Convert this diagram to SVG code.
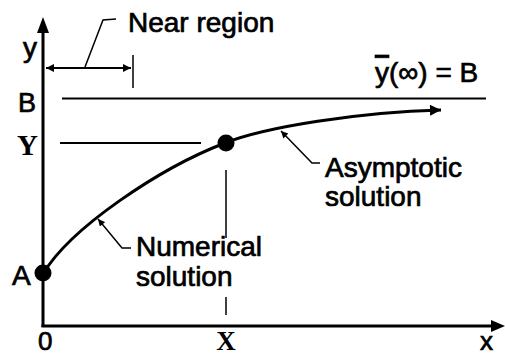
<svg xmlns="http://www.w3.org/2000/svg" width="505" height="356" viewBox="0 0 505 356">
<style>
.t{font-family:"Liberation Sans",Arial,sans-serif;font-size:28px;fill:#000;stroke:#000;stroke-width:0.7px}
.s{font-family:"Liberation Serif","Times New Roman",serif;font-size:29px;font-weight:bold;fill:#000}
.ln{fill:none;stroke:#000;stroke-linecap:butt}
</style>
<defs>
<marker id="big" viewBox="0 0 10 10" refX="10" refY="5" markerUnits="userSpaceOnUse" markerWidth="15" markerHeight="11" orient="auto"><path d="M0,0 L10,5 L0,10 z" fill="#000"/></marker>
<marker id="mid" viewBox="0 0 10 10" refX="10" refY="5" markerUnits="userSpaceOnUse" markerWidth="11" markerHeight="8" orient="auto-start-reverse"><path d="M0,0 L10,5 L0,10 z" fill="#000"/></marker>
<marker id="sm" viewBox="0 0 10 10" refX="10" refY="5" markerUnits="userSpaceOnUse" markerWidth="9" markerHeight="7" orient="auto"><path d="M0,0 L10,5 L0,10 z" fill="#000"/></marker>
</defs>
<rect width="505" height="356" fill="#fff"/>
<g id="axes">
<line class="ln" x1="43" y1="327" x2="43" y2="32" stroke-width="3"/>
<polygon points="43,17 37,33 49,33" fill="#000"/>
<line class="ln" x1="41.5" y1="326" x2="492" y2="326" stroke-width="3"/>
<polygon points="505,326 491,320 491,332" fill="#000"/>
</g>
<g id="connectors">
<line class="ln" x1="62" y1="98.5" x2="486" y2="98.5" stroke-width="2"/>
<line class="ln" x1="60" y1="143" x2="201" y2="143" stroke-width="2"/>
<line class="ln" x1="46" y1="68" x2="131" y2="68" stroke-width="2" marker-start="url(#mid)" marker-end="url(#mid)"/>
<line class="ln" x1="133" y1="55" x2="133" y2="88" stroke-width="1.5"/>
<polyline class="ln" points="85,67 103,20 116,19" stroke-width="1.5"/>
<path class="ln" d="M43,274 C70,228 160,168 225,143 C265,127 360,112 441,110" stroke-width="3" marker-end="url(#big)"/>
<line class="ln" x1="226" y1="170" x2="226" y2="238" stroke-width="1.5"/>
<line class="ln" x1="226" y1="297" x2="226" y2="315" stroke-width="1.5"/>
<polyline class="ln" points="320,163 312,163 281,131" stroke-width="1.5" marker-end="url(#sm)"/>
<polyline class="ln" points="131,248 122,248 98,219" stroke-width="1.5" marker-end="url(#sm)"/>
</g>
<g id="pointA"><circle cx="43" cy="273" r="8.5" fill="#000"/></g>
<g id="pointX"><circle cx="226" cy="143" r="8.5" fill="#000"/></g>
<g id="labels">
<text class="t" x="23" y="57">y</text>
<text class="t" x="18" y="112" style="font-size:27px">B</text>
<text class="s" x="17" y="155">Y</text>
<text class="t" x="12" y="285">A</text>
<text class="t" x="38" y="350" style="font-size:26px">0</text>
<text class="s" x="226" y="350" text-anchor="middle" style="font-size:27px">X</text>
<text class="t" x="480" y="350" style="font-size:26px">x</text>
<text class="t" x="128" y="32">Near region</text>
<text class="t" x="375" y="82"><tspan text-decoration="overline">y</tspan>(∞) = B</text>
<text class="t" x="325" y="177">Asymptotic</text>
<text class="t" x="325" y="206">solution</text>
<text class="t" x="136" y="256">Numerical</text>
<text class="t" x="136" y="286">solution</text>
</g>
</svg>
